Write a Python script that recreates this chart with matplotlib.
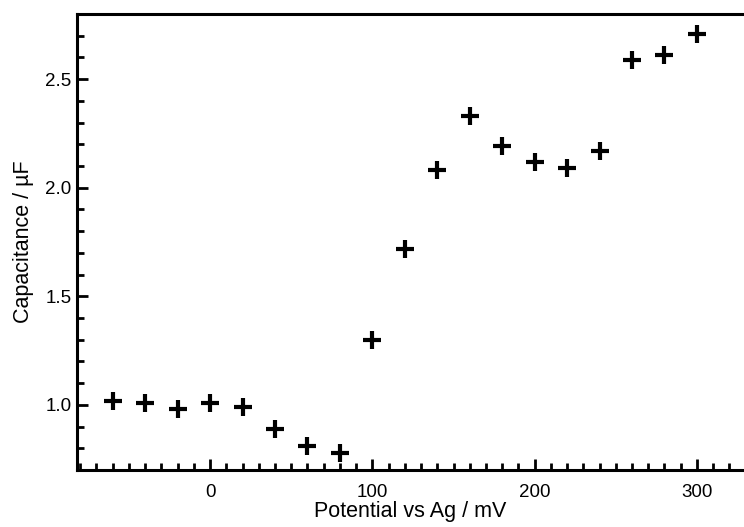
# Capacitance vs potential
import matplotlib
matplotlib.use('Agg')
import matplotlib.pyplot as plt
from matplotlib.ticker import MultipleLocator

plt.rcParams['font.family'] = ['Liberation Sans', 'DejaVu Sans']

# data
potential = [-60, -40, -20, 0, 20, 40, 60, 80, 100, 120, 140, 160,
             180, 200, 220, 240, 260, 280, 300]
capacitance = [1.02, 1.01, 0.98, 1.01, 0.99, 0.89, 0.81, 0.78, 1.30, 1.72,
               2.08, 2.33, 2.19, 2.12, 2.09, 2.17, 2.59, 2.61, 2.71]

fig = plt.figure(figsize=(7.44, 5.27), dpi=100)
ax = fig.add_axes([0.1035, 0.108, 0.8965, 0.8655])

ax.plot(potential, capacitance, '+', color='black', markersize=13, mew=3)

ax.set_xlim(-82, 329)
ax.set_ylim(0.7, 2.8)

ax.xaxis.set_major_locator(MultipleLocator(100))
ax.xaxis.set_minor_locator(MultipleLocator(10))
ax.yaxis.set_major_locator(MultipleLocator(0.5))
ax.yaxis.set_minor_locator(MultipleLocator(0.1))
ax.yaxis.set_major_formatter(plt.FormatStrFormatter('%.1f'))

ax.tick_params(which='major', direction='in', length=8, width=2, labelsize=13.5)
ax.tick_params(axis='x', which='major', pad=10)
ax.tick_params(axis='y', which='major', pad=4)
ax.tick_params(which='minor', direction='in', length=5, width=2)
ax.tick_params(top=False, right=False)

for side in ['left', 'bottom', 'top']:
    ax.spines[side].set_linewidth(2.2)
ax.spines['right'].set_visible(False)

ax.set_xlabel('Potential vs Ag / mV', fontsize=15.5, labelpad=0)
ax.set_ylabel('Capacitance / µF', fontsize=15.5, labelpad=8)

fig.savefig('out.png', dpi=100)
